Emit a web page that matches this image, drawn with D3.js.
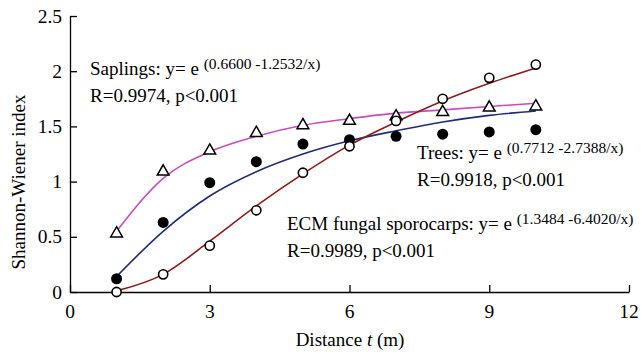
<!DOCTYPE html>
<html lang="en">
<head>
<meta charset="UTF-8">
<title>Shannon-Wiener index vs distance</title>
<script src="https://d3js.org/d3.v7.min.js"></script>
<style>
    body { margin: 0; background: #fff; }
    text { font-family: "Liberation Serif", "Times New Roman", serif; fill: #000; }
    .tick-lab { font-size: 19.5px; }
    .ann { font-size: 19px; }
    .sup { font-size: 15.5px; }
</style>
</head>
<body>
<svg width="641" height="356"></svg>
<script>
    // distances (m)
    const distance = [1, 2, 3, 4, 5, 6, 7, 8, 9, 10];

    // observed values
    const saplingsObs = [0.53, 1.09, 1.28, 1.44, 1.51, 1.55, 1.59, 1.63, 1.67, 1.68];
    const treesObs    = [0.12, 0.63, 0.99, 1.18, 1.34, 1.38, 1.41, 1.43, 1.45, 1.47];
    const ecmObs      = [0.00, 0.16, 0.42, 0.74, 1.08, 1.32, 1.55, 1.75, 1.94, 2.06];

    // fitted curves
    const saplingsFit = [0.55, 1.03, 1.27, 1.41, 1.51, 1.57, 1.62, 1.65, 1.68, 1.71];
    const treesFit    = [0.14, 0.55, 0.87, 1.09, 1.25, 1.37, 1.46, 1.54, 1.60, 1.64];
    const ecmFit      = [0.01, 0.16, 0.46, 0.78, 1.07, 1.33, 1.54, 1.73, 1.89, 2.03];

    const xTicks = [0, 3, 6, 9, 12];
    const yTicks = [0, 0.5, 1, 1.5, 2, 2.5];

    const svg = d3.select("svg");
    const x = d3.scaleLinear().domain([0, 12]).range([70, 629]);
    const y = d3.scaleLinear().domain([0, 2.5]).range([292, 16]);

    // axes (ticks point inward)
    svg.append("g").attr("transform", "translate(0,292)")
        .call(d3.axisTop(x).tickValues(xTicks).tickSize(7).tickSizeOuter(0).tickFormat(""));
    svg.append("g").attr("transform", "translate(70,0)")
        .call(d3.axisRight(y).tickValues(yTicks).tickSize(7).tickSizeOuter(0).tickFormat(""));
    svg.selectAll(".domain, .tick line").attr("stroke", "#000").attr("stroke-width", 1.3);

    svg.append("g").selectAll("text").data(xTicks).join("text")
        .attr("class", "tick-lab")
        .attr("x", d => x(d)).attr("y", 318)
        .attr("text-anchor", "middle")
        .text(d => d);
    svg.append("g").selectAll("text").data(yTicks).join("text")
        .attr("class", "tick-lab")
        .attr("x", 62).attr("y", d => y(d) + 6.5)
        .attr("text-anchor", "end")
        .text(d => d);

    // axis titles
    const xt = svg.append("text").attr("class", "ann")
        .attr("x", 350).attr("y", 346).attr("text-anchor", "middle");
    xt.append("tspan").text("Distance ");
    xt.append("tspan").attr("font-style", "italic").text("t");
    xt.append("tspan").text(" (m)");

    svg.append("text").attr("class", "ann")
        .attr("transform", "translate(25,182) rotate(-90)")
        .attr("text-anchor", "middle")
        .text("Shannon-Wiener index");

    // fitted curves
    const line = d3.line()
        .x((d, i) => x(distance[i]))
        .y(d => y(d))
        .curve(d3.curveMonotoneX);

    const fits = [
        { vals: saplingsFit, color: "#c94bbd" },
        { vals: treesFit, color: "#1f2b7b" },
        { vals: ecmFit, color: "#8c1a1a" }
    ];
    svg.append("g").selectAll("path").data(fits).join("path")
        .attr("d", d => line(d.vals))
        .attr("fill", "none")
        .attr("stroke", d => d.color)
        .attr("stroke-width", 1.6);

    // markers
    const tri = d3.symbol().type(d3.symbolTriangle).size(60);
    svg.append("g").selectAll("path").data(saplingsObs).join("path")
        .attr("d", tri)
        .attr("transform", (d, i) => `translate(${x(distance[i])},${y(d)})`)
        .attr("fill", "#fff").attr("stroke", "#000").attr("stroke-width", 1.5);

    svg.append("g").selectAll("circle").data(treesObs).join("circle")
        .attr("cx", (d, i) => x(distance[i])).attr("cy", d => y(d))
        .attr("r", 5.5).attr("fill", "#000");

    svg.append("g").selectAll("circle").data(ecmObs).join("circle")
        .attr("cx", (d, i) => x(distance[i])).attr("cy", d => y(d))
        .attr("r", 4.6).attr("fill", "#fff").attr("stroke", "#000").attr("stroke-width", 1.6);

    // equation annotations
    function annot(px, py, name, sup, stat) {
        const t = svg.append("text").attr("class", "ann").attr("x", px).attr("y", py);
        t.append("tspan").text(name + ": y= e ");
        t.append("tspan").attr("class", "sup").attr("dy", -6).text(sup);
        svg.append("text").attr("class", "ann").attr("x", px).attr("y", py + 27).text(stat);
    }
    annot(90, 75, "Saplings", "(0.6600 -1.2532/x)", "R=0.9974, p<0.001");
    annot(417, 159, "Trees", "(0.7712 -2.7388/x)", "R=0.9918, p<0.001");
    annot(287, 230, "ECM fungal sporocarps", "(1.3484 -6.4020/x)", "R=0.9989, p<0.001");
</script>
</body>
</html>
